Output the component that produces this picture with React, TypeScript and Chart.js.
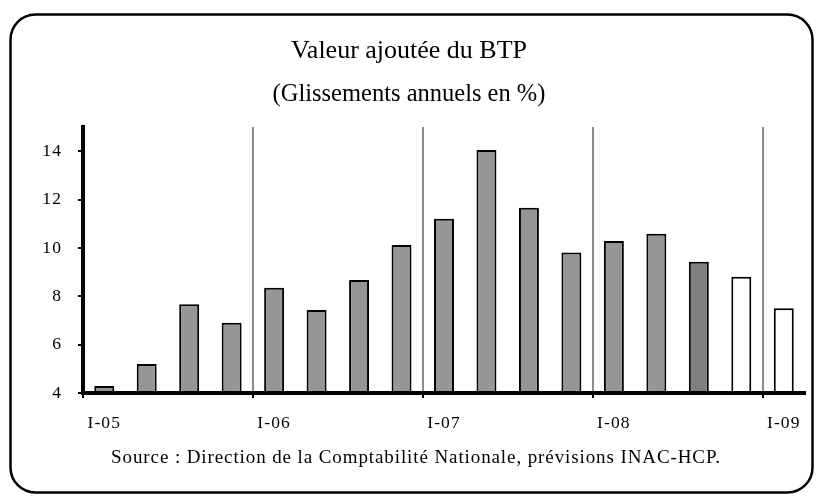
import { useEffect, useRef } from 'react';
import { Chart, registerables } from 'chart.js';

Chart.register(...registerables);

const categories = [
  'I-05', 'II-05', 'III-05', 'IV-05',
  'I-06', 'II-06', 'III-06', 'IV-06',
  'I-07', 'II-07', 'III-07', 'IV-07',
  'I-08', 'II-08', 'III-08', 'IV-08',
  'I-09',
];
const growth = [4.29, 5.2, 7.67, 6.91, 8.35, 7.43, 8.67, 10.12, 11.21, 14.05, 11.66, 9.81, 10.29, 10.59, 9.43, 8.81, 7.5];
const yTickValues = [4, 6, 8, 10, 12, 14];
const titleText = 'Valeur ajoutée du BTP';
const subtitleText = '(Glissements annuels en %)';
const sourceText = 'Source : Direction de la Comptabilité Nationale, prévisions INAC-HCP.';

// styles
const GRAY = '#969696';
const DARK = '#7f7f7f';
const WHITE = '#ffffff';
const barFills = [
  GRAY, GRAY, GRAY, GRAY, GRAY, GRAY, GRAY, GRAY, GRAY, GRAY, GRAY, GRAY, GRAY, GRAY,
  DARK, WHITE, WHITE,
];
const FONT = "'Liberation Serif', 'Times New Roman', serif";

const framePlugin = {
  id: 'frameAndSource',
  afterDatasetsDraw(chart: any) {
    chart.ctx.letterSpacing = '1.1px';
  },
  afterDraw(chart: any) {
    const ctx = chart.ctx;
    ctx.save();
    ctx.letterSpacing = '0.9px';
    ctx.font = `19px ${FONT}`;
    ctx.fillStyle = '#000';
    ctx.textAlign = 'center';
    ctx.textBaseline = 'alphabetic';
    ctx.fillText(sourceText, 416, 463);
    ctx.letterSpacing = '0px';
    ctx.beginPath();
    ctx.roundRect(10.5, 14.5, 802, 478, 25);
    ctx.lineWidth = 2.5;
    ctx.strokeStyle = '#000';
    ctx.stroke();
    ctx.restore();
  },
};

export default function App() {
  const ref = useRef<HTMLCanvasElement>(null);

  useEffect(() => {
    if (!ref.current) return;
    const chart = new Chart(ref.current, {
      type: 'bar',
      data: {
        labels: categories,
        datasets: [
          {
            data: growth,
            backgroundColor: barFills,
            borderColor: '#000',
            borderWidth: 2,
            barPercentage: 0.47,
            categoryPercentage: 1,
          },
        ],
      },
      options: {
        animation: false,
        responsive: false,
        devicePixelRatio: 1,
        layout: { padding: { left: 13, right: 13, top: 0, bottom: 0 } },
        plugins: {
          legend: { display: false },
          tooltip: { enabled: false },
          title: {
            display: true,
            text: titleText,
            color: '#000',
            font: { family: FONT, size: 26, weight: 'normal', lineHeight: 1 },
            padding: { top: 38, bottom: 18 },
          },
          subtitle: {
            display: true,
            text: subtitleText,
            color: '#000',
            font: { family: FONT, size: 24.5, weight: 'normal', lineHeight: 1 },
            padding: { top: 0, bottom: 20.5 },
          },
        },
        scales: {
          x: {
            type: 'category',
            offset: true,
            afterFit: (s: any) => {
              s.height = 104;
            },
            grid: {
              offset: true,
              drawOnChartArea: true,
              drawTicks: true,
              tickLength: 5,
              lineWidth: 2,
              tickWidth: 2,
              color: (c: any) => (c.index > 0 && c.index % 4 === 0 ? '#8c8c8c' : 'rgba(0,0,0,0)'),
              tickColor: (c: any) => (c.index % 4 === 0 ? '#000' : 'rgba(0,0,0,0)'),
            },
            border: { display: true, color: '#000', width: 4, z: 1 },
            ticks: {
              autoSkip: false,
              maxRotation: 0,
              minRotation: 0,
              padding: 15,
              color: '#000',
              z: 1,
              font: { family: FONT, size: 17.5 },
              callback: (_v: any, i: number) => (categories[i].startsWith('I-') ? categories[i] : ''),
            },
          },
          y: {
            min: 4,
            max: 15,
            afterFit: (s: any) => {
              s.width = 70;
            },
            afterBuildTicks: (s: any) => {
              s.ticks = yTickValues.map((v) => ({ value: v }));
            },
            grid: {
              drawOnChartArea: false,
              drawTicks: true,
              tickLength: 5,
              lineWidth: 2,
              tickWidth: 2,
              color: '#000',
              tickColor: '#000',
            },
            border: { display: true, color: '#000', width: 4, z: 1 },
            ticks: {
              padding: 16,
              color: '#000',
              z: 1,
              font: { family: FONT, size: 17.5 },
            },
          },
        },
      },
      plugins: [framePlugin],
    } as any);
    return () => chart.destroy();
  }, []);

  return (
    <canvas
      ref={ref}
      width={818}
      height={497}
      style={{ position: 'absolute', left: 0, top: 0, display: 'block' }}
    />
  );
}
